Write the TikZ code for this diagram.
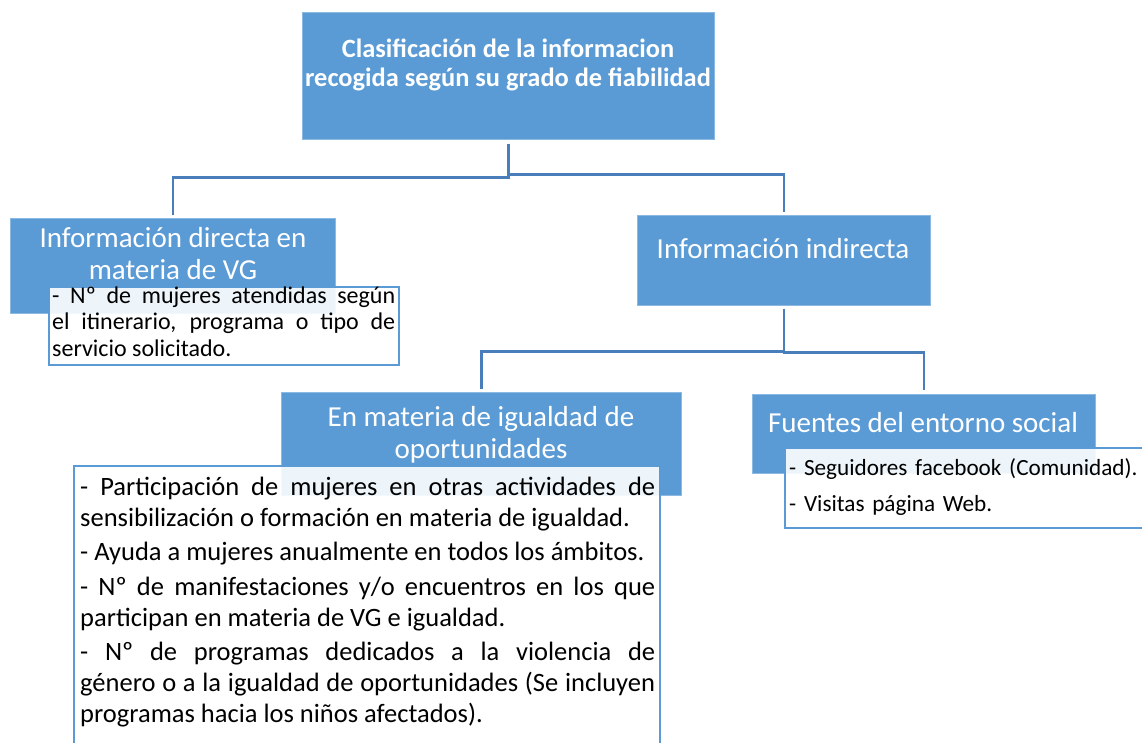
\documentclass[tikz,border=0pt]{standalone}
\usepackage{fontspec}
\setmainfont{Carlito}
\usetikzlibrary{positioning}

\definecolor{boxblue}{HTML}{5B9BD5}
\definecolor{lineblue}{HTML}{4A7EBB}

\begin{document}
\begin{tikzpicture}[x=1pt,y=-1pt,
  catbox/.style={fill=boxblue,draw=boxblue!70!white,line width=0.7pt,anchor=north west,inner sep=0pt},
  infobox/.style={fill=white,fill opacity=0.9,draw=boxblue,line width=2pt,anchor=north west,inner sep=0pt},
  cattext/.style={text=white,align=center,anchor=base,inner sep=0pt,font=\fontsize{29}{32}\selectfont},
  bodytext/.style={anchor=base west,align=justify,inner sep=0pt},
  conn/.style={draw=lineblue,line width=2.5pt}]

\useasboundingbox (0,0) rectangle (1142,742);

% main box
\node[catbox,minimum width=412pt,minimum height=127pt] (root) at (302,12) {};
\node[cattext,font=\bfseries\fontsize{26.4}{29}\selectfont] (rootlbl) at (508,86)
  {Clasificación de la informacion\\recogida según su grado de fiabilidad};

% second level
\node[catbox,minimum width=325pt,minimum height=95pt] (direct) at (10,218) {};
\node[cattext] (directlbl) at (173,279) {Información directa en\\materia de VG};

\node[catbox,minimum width=293pt,minimum height=90pt] (indirect) at (637,215) {};
\node[cattext] (indirectlbl) at (783,258) {Información indirecta};

% third level
\node[catbox,minimum width=400pt,minimum height=103pt] (igualdad) at (281,392) {};
\node[cattext] (igualdadlbl) at (481,458) {En materia de igualdad de\\oportunidades};

\node[catbox,minimum width=343pt,minimum height=79pt] (fuentes) at (752,394) {};
\node[cattext] (fuenteslbl) at (923,432) {Fuentes del entorno social};

% connectors
\draw[conn] ([yshift=-4pt]root.south) -- ++(0,34) -| ([yshift=3pt]direct.north);
\draw[conn] ([yshift=-4pt]root.south) -- ++(0,31) -| ([yshift=3pt]indirect.north);
\draw[conn] ([yshift=-3pt]indirect.south) -- ++(0,43) -| ([yshift=3pt]igualdad.north);
\draw[conn] ([yshift=-3pt]indirect.south) -- ++(0,44) -| ([yshift=4pt]fuentes.north);

% text boxes
\node[infobox,minimum width=350pt,minimum height=78pt] (directinfo) at (48,286) {};
\node[bodytext,text width=343pt,font=\fontsize{24}{26.5}\selectfont] (directlist) at (52,303)
  {- Nº de mujeres atendidas según\linebreak el itinerario, programa o tipo de\linebreak servicio solicitado.};

\node[infobox,minimum width=586pt,minimum height=300pt] (igualdadinfo) at (73,465) {};
\node[bodytext,text width=575pt,font=\fontsize{26.5}{31}\selectfont] (igualdadlist) at (80,495)
  {- Participación de mujeres en otras actividades de\linebreak sensibilización o formación en materia de igualdad.\par\vspace{3.5pt}
   - Ayuda a mujeres anualmente en todos los ámbitos.\par\vspace{3.5pt}
   - Nº de manifestaciones y/o encuentros en los que\linebreak participan en materia de VG e igualdad.\par\vspace{3.5pt}
   - Nº de programas dedicados a la violencia de\linebreak género o a la igualdad de oportunidades (Se incluyen\linebreak programas hacia los niños afectados).};

\node[infobox,minimum width=380pt,minimum height=80pt] (fuentesinfo) at (784,447) {};
\node[bodytext,text width=350pt,align=left,font=\fontsize{23.2}{36}\selectfont] (fuenteslist) at (789,475)
  {- Seguidores facebook (Comunidad).\\- Visitas página Web.};

\end{tikzpicture}
\end{document}
